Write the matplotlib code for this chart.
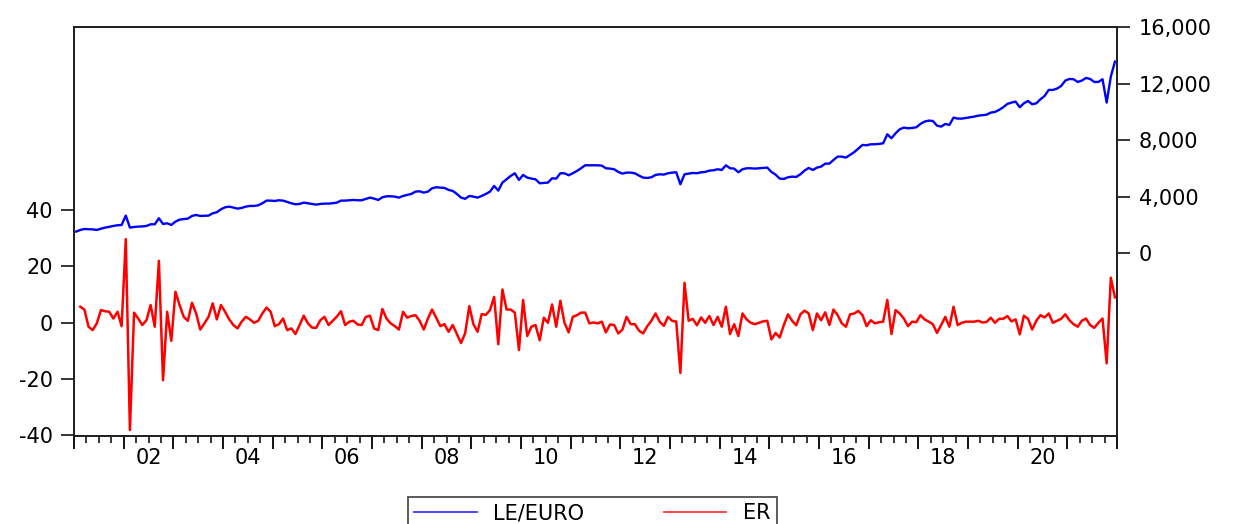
import numpy as np
import pandas as pd
import matplotlib.pyplot as plt
from matplotlib.lines import Line2D
from matplotlib.ticker import FuncFormatter

# monthly series, 2001M01 - 2021M12 (ER starts one month later)
le_euro = [
    1532, 1650, 1720, 1700, 1690, 1650, 1740, 1815, 1870, 1933, 1980, 2003,
    2663, 1815, 1860, 1886, 1900, 1933, 2050, 2050, 2475, 2074, 2121, 2003,
    2239, 2380, 2420, 2451, 2640, 2710, 2640, 2650, 2663, 2828, 2900, 3111,
    3253, 3300, 3229, 3158, 3206, 3300, 3347, 3347, 3394, 3536, 3724, 3724,
    3700, 3748, 3724, 3630, 3536, 3465, 3488, 3583, 3536, 3488, 3441, 3488,
    3512, 3512, 3540, 3583, 3724, 3724, 3748, 3771, 3748, 3748, 3842, 3936,
    3865, 3771, 3960, 4030, 4030, 4007, 3936, 4054, 4125, 4195, 4360, 4384,
    4290, 4360, 4596, 4667, 4643, 4620, 4478, 4408, 4195, 3936, 3850, 4054,
    4007, 3936, 4054, 4195, 4360, 4761, 4431, 4997, 5233, 5468, 5657, 5185,
    5539, 5350, 5280, 5233, 4950, 4973, 4997, 5303, 5280, 5657, 5657, 5515,
    5657, 5822, 6010, 6222, 6222, 6222, 6222, 6199, 6010, 5987, 5940, 5751,
    5633, 5704, 5704, 5657, 5492, 5350, 5327, 5374, 5539, 5586, 5563, 5657,
    5704, 5727, 4879, 5586, 5633, 5680, 5657, 5727, 5751, 5845, 5869, 5940,
    5893, 6222, 6010, 5987, 5727, 5940, 6010, 6010, 5987, 6010, 6034, 6057,
    5751, 5563, 5280, 5256, 5374, 5421, 5397, 5586, 5845, 6034, 5893, 6057,
    6128, 6340, 6340, 6600, 6835, 6835, 6765, 6953, 7150, 7400, 7660, 7637,
    7707, 7707, 7731, 7778, 8414, 8132, 8485, 8768, 8886, 8839, 8862, 8909,
    9145, 9310, 9381, 9357, 9027, 8956, 9145, 9074, 9593, 9522, 9522, 9570,
    9617, 9664, 9734, 9770, 9800, 9947, 9994, 10135, 10324, 10559, 10654, 10724,
    10324, 10606, 10771, 10536, 10606, 10889, 11125, 11549, 11549, 11644, 11832, 12209,
    12327, 12304, 12115, 12209, 12398, 12327, 12115, 12115, 12304, 10654, 12492, 13553,
]

er = [
    5.7, 4.7, -1.4, -2.6, -0.2, 4.5, 4.1, 3.9, 1.5, 3.9, -1.2,
    29.7, -38.1, 3.6, 1.5, -0.8, 0.9, 6.3, -1.4, 22.0, -20.4, 3.9, -6.4,
    11.0, 6.3, 2.1, 0.7, 7.1, 3.3, -2.4, -0.2, 2.1, 6.9, 1.2, 6.3,
    3.9, 1.2, -0.8, -2.0, 0.4, 2.1, 1.2, 0.0, 0.7, 3.3, 5.4, 3.9,
    -1.2, -0.5, 1.5, -2.6, -2.0, -4.0, -0.8, 2.5, -0.2, -1.7, -1.8, 0.9,
    2.1, -0.8, 0.7, 2.2, 4.1, -0.8, 0.4, 0.7, -0.6, -0.8, 2.1, 2.5,
    -2.0, -2.6, 4.9, 1.5, -0.2, -1.2, -2.4, 3.9, 1.8, 2.4, 2.7, 0.7,
    -2.4, 1.5, 4.7, 1.8, -1.2, -0.5, -3.2, -0.8, -4.0, -7.2, -3.7, 5.9,
    -0.5, -3.2, 3.1, 2.8, 4.5, 9.2, -7.6, 11.8, 4.7, 4.7, 3.6, -9.7,
    8.1, -4.7, -1.4, -0.8, -6.2, 1.8, 0.0, 6.5, -1.4, 7.8, 0.0, -3.4,
    2.1, 2.7, 3.6, 3.6, -0.2, 0.1, -0.2, 0.4, -3.4, -0.6, -0.8, -3.8,
    -2.4, 2.1, -0.5, -0.5, -2.8, -3.8, -1.2, 0.7, 3.3, 0.4, -1.1, 2.1,
    0.7, 0.4, -17.8, 14.2, 0.7, 1.4, -0.9, 1.9, 0.0, 2.4, -0.8, 2.1,
    -1.4, 5.7, -4.0, -0.5, -4.7, 3.3, 1.2, 0.0, -0.5, 0.0, 0.5, 0.7,
    -5.9, -3.6, -5.2, -0.8, 3.0, 0.7, -0.9, 3.0, 4.3, 3.3, -2.6, 3.3,
    0.9, 3.7, -0.8, 4.7, 2.7, -0.2, -1.4, 3.0, 3.3, 4.2, 2.7, -1.2,
    0.9, -0.2, 0.2, 0.4, 8.1, -4.0, 4.5, 3.3, 1.5, -1.2, 0.4, 0.2,
    2.7, 1.2, 0.4, -0.5, -3.6, -0.8, 2.1, -1.4, 5.7, -0.8, 0.0, 0.4,
    0.4, 0.4, 0.7, 0.1, 0.3, 1.8, 0.0, 1.4, 1.4, 2.4, 0.5, 1.2,
    -4.1, 2.5, 1.4, -2.4, 0.7, 2.7, 1.9, 3.3, 0.0, 0.7, 1.4, 3.0,
    0.9, -0.5, -1.4, 0.7, 1.5, -0.8, -1.8, 0.0, 1.5, -14.4, 16.0, 9.0,
]

year_labels = ['02', '04', '06', '08', '10', '12', '14', '16', '18', '20']
left_ticks = [-40, -20, 0, 20, 40]
right_ticks = [0, 4000, 8000, 12000, 16000]


def month_pos(start, n):
    # place each monthly observation in the middle of its month
    p = pd.period_range(start, periods=n, freq='M')
    return np.asarray(p.year + (p.month - 0.5) / 12.0)


x_le = month_pos('2001-01', len(le_euro))
x_er = month_pos('2001-02', len(er))

plt.rcParams['font.family'] = 'DejaVu Sans'
plt.rcParams['axes.unicode_minus'] = False
fs = 15

fig = plt.figure(figsize=(12.34, 5.24), dpi=100)
ax = fig.add_axes([0.0600, 0.1679, 0.8452, 0.7806])
ax2 = ax.twinx()

ax.plot(x_er, er, color='#ff0000', lw=1.8)
ax2.plot(x_le, le_euro, color='#0000ff', lw=1.7)

ax.set_xlim(2001, 2022)
ax.set_ylim(-40.2, 105)
ax2.set_ylim(-12920, 16000)

ax.set_yticks(left_ticks)
ax2.set_yticks(right_ticks)
ax2.yaxis.set_major_formatter(FuncFormatter(lambda v, p: f'{int(v):,}'))

ax.set_xticks(np.arange(2001, 2023))
ax.set_xticks(np.arange(2001, 2022, 0.25), minor=True)
ax.set_xticklabels([])
ax.tick_params(axis='x', which='major', length=9, width=1.3, direction='out')
ax.tick_params(axis='x', which='minor', length=5, width=1.1, direction='out')
ax.tick_params(axis='y', length=9.5, width=1.1, pad=6, labelsize=fs)
ax2.tick_params(axis='y', length=9.5, width=1.1, pad=6, labelsize=fs)

# two-year labels sit in the middle of their year
for lab in year_labels:
    yr = 2000 + int(lab)
    ax.annotate(lab, xy=(yr + 0.5, 0), xycoords=('data', 'axes fraction'),
                xytext=(0, -16), textcoords='offset points',
                ha='center', va='center', fontsize=fs)

for a in (ax, ax2):
    for s in a.spines.values():
        s.set_linewidth(1.4)
        s.set_color('#222222')

handles = [Line2D([], [], color='#3a3aff', lw=1.3),
           Line2D([], [], color='#ff3a3a', lw=1.3)]
leg = fig.legend(handles, ['LE/EURO', 'ER'], loc='upper left',
                 bbox_to_anchor=(408 / 1234, 1 - 497 / 524), ncol=2,
                 fontsize=fs, frameon=True, fancybox=False, edgecolor='#222222',
                 handlelength=3.0, handletextpad=0.8, columnspacing=3.8,
                 borderpad=0.3, borderaxespad=0)
leg.get_frame().set_linewidth(1.3)

fig.savefig('out.png', dpi=100)
